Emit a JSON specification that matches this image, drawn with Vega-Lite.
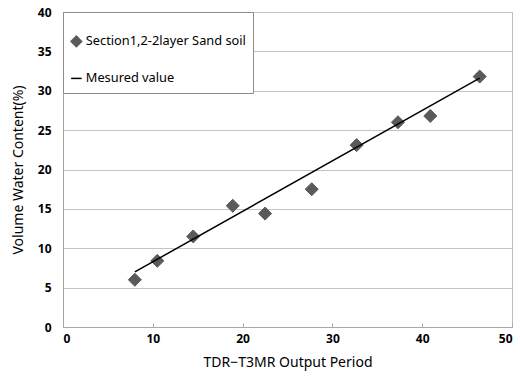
{
  "$schema": "https://vega.github.io/schema/vega-lite/v6.json",
  "width": 449,
  "height": 315,
  "autosize": {"type": "none"},
  "padding": {"left": 63, "top": 12, "right": 8, "bottom": 54},
  "background": "white",
  "config": {
    "view": {"stroke": "#bdbdbd", "strokeWidth": 1},
    "font": "Noto Sans",
    "legend": {
      "titleFontSize": 10,
      "titlePadding": 6,
      "orient": "none",
      "legendX": 0,
      "legendY": 0,
      "direction": "vertical",
      "strokeColor": "#8c8c8c",
      "fillColor": "white",
      "padding": 7,
      "rowPadding": 22,
      "labelOffset": 3,
      "labelFont": "Noto Sans",
      "labelFontSize": 12.8,
      "labelColor": "#000000",
      "labelLimit": 300,
      "symbolSize": 110,
      "symbolStrokeWidth": 1.5
    }
  },
  "datasets": {
    "pts": [
      {"x": 8.0, "y": 6.0, "s": "Section1,2-2layer Sand soil"},
      {"x": 10.5, "y": 8.4, "s": "Section1,2-2layer Sand soil"},
      {"x": 14.5, "y": 11.5, "s": "Section1,2-2layer Sand soil"},
      {"x": 18.9, "y": 15.4, "s": "Section1,2-2layer Sand soil"},
      {"x": 22.5, "y": 14.4, "s": "Section1,2-2layer Sand soil"},
      {"x": 27.7, "y": 17.5, "s": "Section1,2-2layer Sand soil"},
      {"x": 32.7, "y": 23.1, "s": "Section1,2-2layer Sand soil"},
      {"x": 37.3, "y": 26.0, "s": "Section1,2-2layer Sand soil"},
      {"x": 40.9, "y": 26.8, "s": "Section1,2-2layer Sand soil"},
      {"x": 46.4, "y": 31.8, "s": "Section1,2-2layer Sand soil"}
    ],
    "fit": [
      {"x": 8.0, "y": 7.0, "s": "Mesured value"},
      {"x": 46.4, "y": 31.6, "s": "Mesured value"}
    ]
  },
  "encoding": {
    "x": {
      "field": "x", "type": "quantitative",
      "scale": {"domain": [0, 50], "nice": false},
      "axis": {
        "title": "TDR−T3MR Output Period",
        "values": [0, 10, 20, 30, 40, 50],
        "labelOverlap": false,
        "grid": false,
        "domainColor": "#a6a6a6",
        "tickColor": "#a6a6a6",
        "tickSize": -4,
        "labelPadding": 10,
        "labelFont": "Noto Sans",
        "labelFontWeight": "bold",
        "labelFontSize": 12,
        "labelColor": "#000000",
        "titleFont": "Noto Sans",
        "titleFontWeight": "normal",
        "titleFontSize": 14,
        "titleColor": "#000000",
        "titlePadding": 11
      }
    },
    "y": {
      "field": "y", "type": "quantitative",
      "scale": {"domain": [0, 40], "nice": false},
      "axis": {
        "title": "Volume Water Content(%)",
        "values": [0, 5, 10, 15, 20, 25, 30, 35, 40],
        "labelOverlap": false,
        "grid": true,
        "gridColor": "#c4c4c4",
        "domainColor": "#a6a6a6",
        "ticks": false,
        "labelPadding": 12,
        "labelFont": "Noto Sans",
        "labelFontWeight": "bold",
        "labelFontSize": 12,
        "labelColor": "#000000",
        "titleFont": "Noto Sans",
        "titleFontWeight": "normal",
        "titleFontSize": 14,
        "titleColor": "#000000",
        "titlePadding": 12
      }
    },
    "color": {
      "field": "s", "type": "nominal",
      "scale": {"domain": ["Section1,2-2layer Sand soil", "Mesured value"], "range": ["#5a5a5a", "#000000"]},
      "legend": {"title": "\u00a0"}
    }
  },
  "layer": [
    {
      "data": {"name": "pts"},
      "mark": {"type": "point", "filled": false, "fill": "#5a5a5a", "fillOpacity": 1, "strokeWidth": 1, "size": 170, "opacity": 1},
      "encoding": {
        "shape": {
          "field": "s", "type": "nominal",
          "scale": {"domain": ["Section1,2-2layer Sand soil", "Mesured value"], "range": ["diamond", "stroke"]},
          "legend": {"title": "\u00a0"}
        }
      }
    },
    {
      "data": {"name": "fit"},
      "mark": {"type": "line", "strokeWidth": 1.5}
    }
  ]
}
